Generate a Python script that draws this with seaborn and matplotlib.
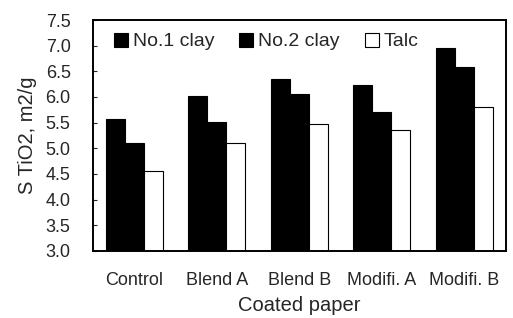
import seaborn as sns
import numpy as np
import pandas as pd
import matplotlib.pyplot as plt

papers = ['Control', 'Blend A', 'Blend B', 'Modifi. A', 'Modifi. B']
pigments = ['No.1 clay', 'No.2 clay', 'Talc']
no1_clay = [5.57, 6.01, 6.36, 6.24, 6.96]
no2_clay = [5.10, 5.51, 6.05, 5.70, 6.59]
talc = [4.56, 5.10, 5.47, 5.36, 5.80]

df = pd.DataFrame({
    'paper': papers * 3,
    'pigment': np.repeat(pigments, len(papers)),
    'value': no1_clay + no2_clay + talc,
})

sns.set_style("ticks")
plt.rcParams['font.family'] = ['Liberation Sans', 'DejaVu Sans']

fig = plt.figure(figsize=(5.13, 3.18), dpi=100)
ax = fig.add_axes([0.181, 0.211, 0.805, 0.726])

sns.barplot(data=df, x='paper', y='value', hue='pigment',
            palette=['black', 'black', 'white'], edgecolor='black',
            linewidth=0.8, width=0.69, saturation=1, ax=ax)

ax.set_ylim(3.0, 7.5)
ax.set_yticks(np.arange(3.0, 7.51, 0.5))
ax.set_yticklabels([f'{v:.1f}' for v in np.arange(3.0, 7.51, 0.5)], fontsize=13)
ax.set_xlim(-0.5, 4.5)
ax.tick_params(axis='x', labelsize=13, length=0, pad=15)
ax.tick_params(axis='y', direction='in', length=3, pad=16)
ax.set_xlabel('Coated paper', fontsize=14.5, labelpad=5)
ax.set_ylabel('S TiO2, m2/g', fontsize=14.5, labelpad=6)

for s in ax.spines.values():
    s.set_linewidth(1.4)
    s.set_color('black')

ax.legend(loc='upper left', bbox_to_anchor=(0.02, 1.0), ncol=3, frameon=False,
          fontsize=14, handlelength=0.72, handleheight=0.72, handletextpad=0.25,
          columnspacing=1.3, borderaxespad=0.25)

plt.savefig('out.png', dpi=100)
